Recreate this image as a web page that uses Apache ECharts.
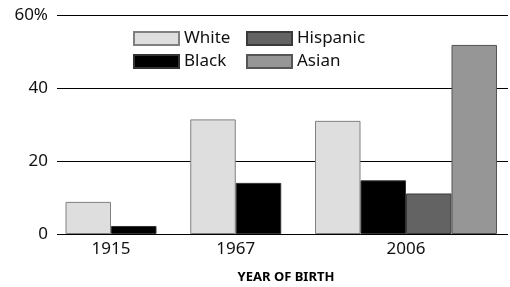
<!DOCTYPE html>
<html><head><meta charset="utf-8">
<script src="https://cdn.jsdelivr.net/npm/echarts@6/dist/echarts.min.js"></script>
<style>html,body{margin:0;padding:0;background:#fff}#c{width:510px;height:287px}</style>
</head><body><div id="c"></div>
<script>
const years = ['1915', '1967', '2006'];
const white = [8.8, 31.4, 31.0];
const black = [2.2, 14.0, 14.7];
const hispanic = [null, null, 11.1];
const asian = [null, null, 51.8];
const yTicks = [0, 20, 40, 60];

const races = [
  {name: 'White', data: white, color: '#dedede', border: '#808080'},
  {name: 'Black', data: black, color: '#000000', border: '#333333'},
  {name: 'Hispanic', data: hispanic, color: '#636363', border: '#3a3a3a'},
  {name: 'Asian', data: asian, color: '#969696', border: '#555555'}
];

const FONT = 'Noto Sans';
const gTop = 15, gBottom = 53, plotLeft = 57, plotRight = 2;
const barW = 45.5, groupGap = 33.75, firstLeft = 65.5;

const grids = [{left: plotLeft, right: plotRight, top: gTop, bottom: gBottom}];
const xAxes = [{type: 'category', gridIndex: 0, data: [''], show: false}];
const yAxes = [{
  type: 'value', gridIndex: 0, min: yTicks[0], max: yTicks[yTicks.length - 1], interval: 20,
  axisLine: {show: false}, axisTick: {show: false},
  splitLine: {lineStyle: {color: '#000', width: 1.2}},
  axisLabel: {margin: 9, fontFamily: FONT, fontSize: 17, color: '#111',
    formatter: v => v === 60 ? '60%' : String(v)}
}];
const series = [];
let gLeft = firstLeft;
years.forEach((yr, gi) => {
  const present = races.filter(r => r.data[gi] != null);
  const w = present.length * barW;
  const idx = grids.length;
  grids.push({left: gLeft, width: w, top: gTop, bottom: gBottom});
  xAxes.push({type: 'category', gridIndex: idx, data: [yr],
    axisLine: {show: false}, axisTick: {show: false},
    axisLabel: {margin: 7, fontFamily: FONT, fontSize: 17, color: '#111'}});
  yAxes.push({type: 'value', gridIndex: idx, min: 0, max: 60, show: false, splitLine: {show: false}});
  present.forEach(r => {
    series.push({
      type: 'bar', name: r.name, xAxisIndex: idx, yAxisIndex: idx,
      data: [r.data[gi]], barGap: '0%', barCategoryGap: '0%',
      itemStyle: {color: r.color, borderColor: r.border, borderWidth: 1},
      silent: true, animation: false
    });
  });
  gLeft += w + groupGap;
});

const legendCommon = {
  orient: 'vertical', padding: 0, itemWidth: 45, itemHeight: 13, itemGap: 6,
  icon: 'rect', top: 30,
  textStyle: {fontFamily: FONT, fontSize: 17, color: '#111', padding: [0, 0, 0, 0]}
};

const chart = echarts.init(document.getElementById('c'), null, {renderer: 'canvas'});
chart.setOption({
  animation: false,
  title: {text: 'YEAR OF BIRTH', left: 281, top: 266, textAlign: 'center',
    textStyle: {fontFamily: FONT, fontSize: 13, fontWeight: 'bold', color: '#000'}},
  legend: [
    Object.assign({}, legendCommon, {left: 133, data: ['White', 'Black']}),
    Object.assign({}, legendCommon, {left: 246, data: ['Hispanic', 'Asian']})
  ],
  grid: grids, xAxis: xAxes, yAxis: yAxes, series: series
});
</script></body></html>
